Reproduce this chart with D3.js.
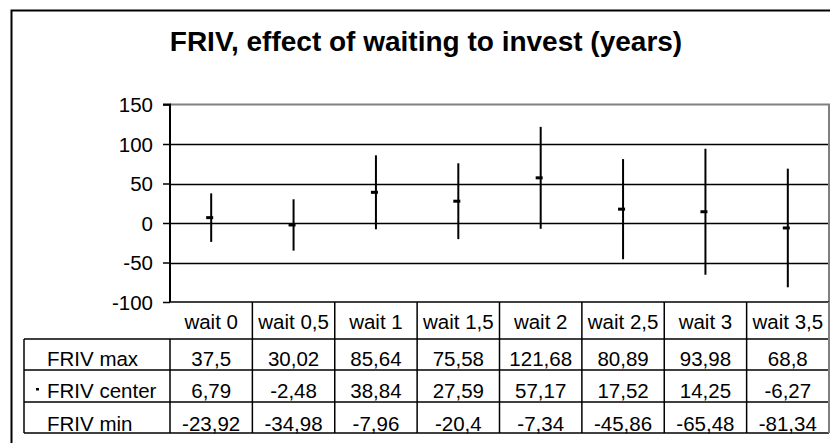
<!DOCTYPE html>
<html lang="en">
<head>
<meta charset="utf-8">
<script src="https://cdn.jsdelivr.net/npm/d3@7"></script>
<style>
  body { margin: 0; background: #fff; }
  svg { display: block; font-family: "Liberation Sans", Arial, sans-serif; }
</style>
</head>
<body>
<script>
    // Data
    const categories = ['wait 0', 'wait 0,5', 'wait 1', 'wait 1,5', 'wait 2', 'wait 2,5', 'wait 3', 'wait 3,5']
    const frivMax = [37.5, 30.02, 85.64, 75.58, 121.68, 80.89, 93.98, 68.8]
    const frivCenter = [6.79, -2.48, 38.84, 27.59, 57.17, 17.52, 14.25, -6.27]
    const frivMin = [-23.92, -34.98, -7.96, -20.4, -7.34, -45.86, -65.48, -81.34]
    const yTicks = [150, 100, 50, 0, -50, -100]
    const rowNames = ['FRIV max', 'FRIV center', 'FRIV min']

    const w = 830
    const h = 443
    const plot = { left: 170, right: 829, top: 104.5, bottom: 302 }
    const tableLeft = 24
    // row lines of the data table under the plot
    const rowLines = [302, 339, 370, 402, 433]
    const rowBase = [329, 366, 398, 431]

    const svg = d3.select('body').append('svg')
        .attr('width', w)
        .attr('height', h)

    // outer chart frame (runs off the right and bottom of the picture)
    svg.append('rect')
        .attr('x', 11.5).attr('y', 10.5)
        .attr('width', 830).attr('height', 450)
        .attr('fill', 'none').attr('stroke', '#000').attr('stroke-width', 2)

    svg.append('text')
        .attr('x', 426).attr('y', 51)
        .attr('text-anchor', 'middle')
        .attr('font-size', 28).attr('font-weight', 'bold')
        .text('FRIV, effect of waiting to invest (years)')

    const x = d3.scaleBand().domain(categories).range([plot.left, plot.right]).padding(0)
    const y = d3.scaleLinear().domain([-100, 150]).range([plot.bottom, plot.top])
    const fmt = v => String(v).replace('.', ',')

    // gridlines
    svg.append('g').selectAll('line')
        .data(yTicks.filter(t => t !== 150 && t !== -100))
      .enter().append('line')
        .attr('x1', plot.left).attr('x2', plot.right)
        .attr('y1', d => Math.round(y(d)) + 0.5).attr('y2', d => Math.round(y(d)) + 0.5)
        .attr('stroke', '#000').attr('stroke-width', 1.6)

    // plot area top/right border (grey)
    svg.append('path')
        .attr('d', `M${plot.left},${plot.top} H${plot.right} V${plot.bottom}`)
        .attr('fill', 'none').attr('stroke', '#808080').attr('stroke-width', 2)

    // y axis
    const yAxis = d3.axisLeft(y).tickValues(yTicks).tickFormat(d => String(d)).tickSize(7).tickPadding(10)
    const ga = svg.append('g').attr('transform', `translate(${plot.left},0)`).call(yAxis)
    ga.select('.domain').attr('stroke-width', 2).attr('d', `M-7,${plot.top}H0V${plot.bottom}`)
    ga.selectAll('.tick line').attr('stroke-width', 1.5)
    ga.selectAll('.tick text')
        .attr('font-size', 20.5).attr('font-family', '"Liberation Sans", Arial, sans-serif')
        .attr('fill', '#000').attr('dy', '0.36em')

    // high-low lines
    const rows = categories.map((c, i) => ({ c, hi: frivMax[i], mid: frivCenter[i], lo: frivMin[i] }))
    svg.append('g').selectAll('line')
        .data(rows)
      .enter().append('line')
        .attr('x1', d => x(d.c) + x.bandwidth() / 2).attr('x2', d => x(d.c) + x.bandwidth() / 2)
        .attr('y1', d => y(d.hi)).attr('y2', d => y(d.lo))
        .attr('stroke', '#000').attr('stroke-width', 2)

    // center dash markers
    svg.append('g').selectAll('rect')
        .data(rows)
      .enter().append('rect')
        .attr('x', d => x(d.c) + x.bandwidth() / 2 - 5)
        .attr('y', d => y(d.mid) - 1.5)
        .attr('width', 7).attr('height', 3)
        .attr('fill', '#000')

    // data table
    const table = svg.append('g').attr('stroke', '#000').attr('stroke-width', 1.5)
    rowLines.forEach((ly, i) => {
        table.append('line')
            .attr('x1', i === 0 ? plot.left : tableLeft).attr('x2', plot.right)
            .attr('y1', ly).attr('y2', ly)
    })
    table.append('line')
        .attr('x1', tableLeft).attr('x2', tableLeft)
        .attr('y1', rowLines[1]).attr('y2', rowLines[4])
    x.domain().concat(['end']).forEach((c, i) => {
        const lx = c === 'end' ? plot.right : x(c)
        table.append('line')
            .attr('x1', lx).attr('x2', lx)
            .attr('y1', i === 0 ? rowLines[1] : rowLines[0]).attr('y2', rowLines[4])
    })
    table.select('line:last-child').attr('stroke', '#808080').attr('stroke-width', 2)

    const txt = svg.append('g').attr('font-size', 20.5).attr('fill', '#000')
    txt.selectAll('text.cat')
        .data(categories)
      .enter().append('text')
        .attr('class', 'cat')
        .attr('x', d => x(d) + x.bandwidth() / 2).attr('y', rowBase[0])
        .attr('text-anchor', 'middle')
        .text(d => d)

    const series = [frivMax, frivCenter, frivMin]
    series.forEach((vals, r) => {
        txt.append('text')
            .attr('x', 47).attr('y', rowBase[r + 1])
            .text(rowNames[r])
        txt.selectAll('text.v' + r)
            .data(vals)
          .enter().append('text')
            .attr('class', 'v' + r)
            .attr('x', (d, i) => x(categories[i]) + x.bandwidth() / 2).attr('y', rowBase[r + 1])
            .attr('text-anchor', 'middle')
            .text(d => fmt(d))
    })
    // legend key for the center marker
    svg.append('rect')
        .attr('x', 36).attr('y', 388).attr('width', 3).attr('height', 2.5).attr('fill', '#000')
</script>
</body>
</html>
